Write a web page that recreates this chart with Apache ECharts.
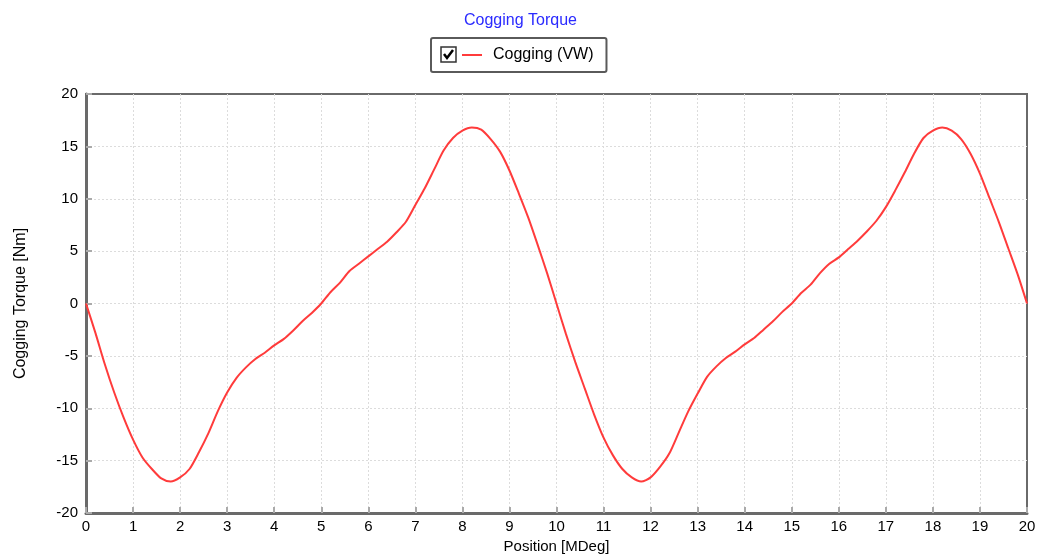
<!DOCTYPE html>
<html>
<head>
<meta charset="utf-8">
<script src="https://cdn.jsdelivr.net/npm/echarts@6/dist/echarts.min.js"></script>
<style>
html,body{margin:0;padding:0;background:#fff;}
#chart{width:1041px;height:560px;}
</style>
</head>
<body>
<div id="chart"></div>
<script>
// Position [MDeg]
var positions = [];
for (var i = 0; i <= 100; i++) positions.push(+(i * 0.2).toFixed(1));

// Cogging torque [Nm] at 0.2 MDeg steps
var cogging = [
  0.0, -2.8, -5.8, -8.5, -10.9, -13.0, -14.7, -15.8, -16.7, -17.0,
  -16.6, -15.8, -14.2, -12.4, -10.3, -8.5, -7.1, -6.1, -5.3, -4.7,
  -4.0, -3.4, -2.6, -1.7, -0.9, 0.0, 1.1, 2.0, 3.1, 3.8,
  4.5, 5.2, 5.9, 6.8, 7.8, 9.4, 11.0, 12.8, 14.6, 15.8,
  16.5, 16.8, 16.6, 15.7, 14.5, 12.7, 10.5, 8.2, 5.6, 2.9,
  0.0, -2.9, -5.6, -8.1, -10.6, -12.8, -14.5, -15.8, -16.6, -17.0,
  -16.6, -15.6, -14.3, -12.3, -10.3, -8.6, -7.0, -6.0, -5.2, -4.6,
  -3.9, -3.3, -2.5, -1.7, -0.8, 0.0, 1.0, 1.8, 2.9, 3.8,
  4.4, 5.2, 6.0, 6.9, 7.9, 9.2, 10.8, 12.5, 14.3, 15.8,
  16.5, 16.8, 16.5, 15.7, 14.3, 12.4, 10.1, 7.8, 5.3, 2.8,
  0.0
];

var titleText = 'Cogging Torque';
var seriesName = 'Cogging (VW)';
var xName = 'Position [MDeg]';
var yName = 'Cogging Torque [Nm]';

var FONT = '"Liberation Sans", Arial, sans-serif';

var pts = positions.map(function (x, i) { return [x, cogging[i]]; });

var chart = echarts.init(document.getElementById('chart'), null, {renderer: 'canvas'});
chart.setOption({
  animation: false,
  backgroundColor: '#ffffff',
  title: {
    text: titleText,
    left: 'center',
    top: 8,
    textStyle: {color: '#2a2aff', fontSize: 16, fontWeight: 'normal', fontFamily: FONT}
  },
  legend: {
    data: [{name: seriesName, icon: 'rect'}],
    left: 431,
    top: 38,
    padding: [9, 13, 9, 31],
    itemWidth: 20,
    itemHeight: 2,
    itemGap: 10,
    borderColor: '#5a5a5a',
    borderWidth: 2,
    borderRadius: 2,
    selectedMode: false,
    textStyle: {color: '#000', fontSize: 16, fontFamily: FONT, padding: [0, 0, 0, 6]}
  },
  graphic: [
    {
      type: 'rect',
      shape: {x: 441, y: 47, width: 15, height: 15},
      style: {fill: '#fff', stroke: '#333', lineWidth: 1.5}
    },
    {
      type: 'polyline',
      shape: {points: [[444, 54], [447, 58], [453, 50]]},
      style: {stroke: '#000', lineWidth: 2.5, fill: null}
    }
  ],
  grid: {
    left: 86, right: 14, top: 94, bottom: 47,
    show: true,
    borderColor: '#6a6a6a',
    borderWidth: 2,
    backgroundColor: '#fff'
  },
  xAxis: {
    type: 'value',
    min: 0, max: 20, interval: 1,
    name: xName,
    nameLocation: 'middle',
    nameGap: 24,
    nameTextStyle: {color: '#000', fontSize: 15, fontFamily: FONT},
    axisLine: {show: true, onZero: false, lineStyle: {color: '#6a6a6a', width: 3}},
    axisTick: {show: true, inside: true, length: 6, lineStyle: {color: '#aaaaaa', width: 2}},
    axisLabel: {color: '#000', fontSize: 15, fontFamily: FONT, margin: 6},
    splitLine: {show: true, showMinLine: false, showMaxLine: false, lineStyle: {color: '#dcdcdc', type: [2, 2], width: 1}}
  },
  yAxis: {
    type: 'value',
    min: -20, max: 20, interval: 5,
    name: yName,
    nameLocation: 'middle',
    nameGap: 57,
    nameTextStyle: {color: '#000', fontSize: 16, fontFamily: FONT},
    axisLine: {show: true, onZero: false, lineStyle: {color: '#6a6a6a', width: 3}},
    axisTick: {show: true, inside: true, length: 6, lineStyle: {color: '#aaaaaa', width: 2}},
    axisLabel: {color: '#000', fontSize: 15, fontFamily: FONT, margin: 8},
    splitLine: {show: true, showMinLine: false, showMaxLine: false, lineStyle: {color: '#dcdcdc', type: [2, 2], width: 1}}
  },
  series: [{
    name: seriesName,
    type: 'line',
    data: pts,
    showSymbol: false,
    smooth: 0.25,
    color: '#ff3b3b',
    lineStyle: {color: '#ff3b3b', width: 2}
  }]
});
</script>
</body>
</html>
